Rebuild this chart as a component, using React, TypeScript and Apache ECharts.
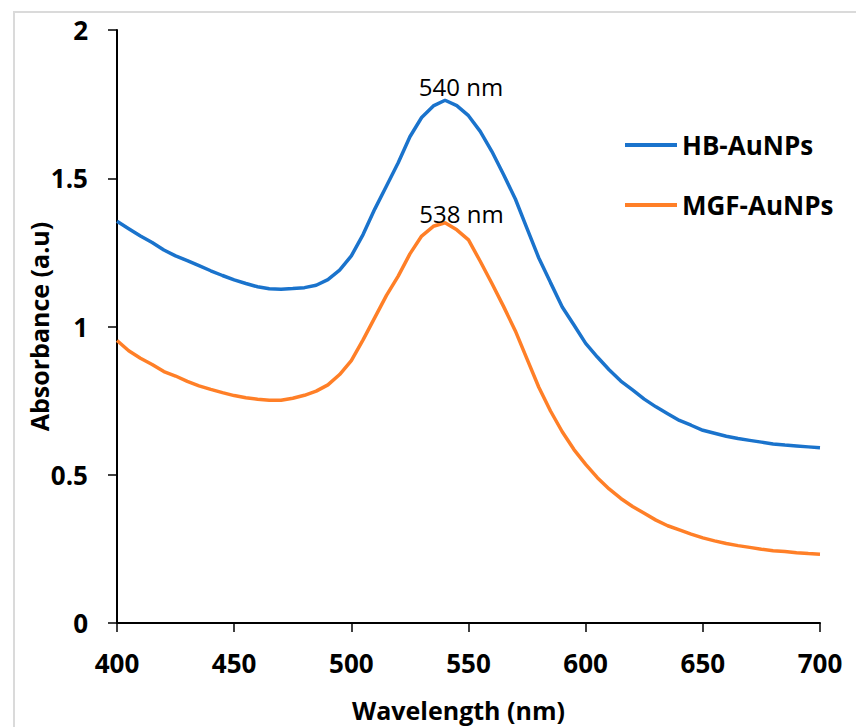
import React, { useEffect, useRef } from "react";
import * as echarts from "echarts";

const wavelengths: number[] = [
  400, 405, 410, 415, 420, 425, 430, 435, 440, 445, 450, 455, 460, 465, 470, 475, 480, 485, 490, 495,
  500, 505, 510, 515, 520, 525, 530, 535, 540, 545, 550, 555, 560, 565, 570, 575, 580, 585, 590, 595,
  600, 605, 610, 615, 620, 625, 630, 635, 640, 645, 650, 655, 660, 665, 670, 675, 680, 685, 690, 695, 700,
];

const hbAuNPs: number[] = [
  1.355, 1.33, 1.305, 1.283, 1.258, 1.238, 1.222, 1.205, 1.188, 1.172, 1.157, 1.145, 1.134, 1.127, 1.126, 1.128, 1.131, 1.139, 1.158, 1.19,
  1.238, 1.31, 1.396, 1.474, 1.552, 1.64, 1.705, 1.744, 1.763, 1.745, 1.711, 1.658, 1.59, 1.512, 1.43, 1.33, 1.231, 1.148, 1.066, 1.005,
  0.943, 0.897, 0.854, 0.816, 0.786, 0.755, 0.729, 0.706, 0.683, 0.667, 0.65, 0.64, 0.63, 0.622, 0.616, 0.61, 0.604, 0.6, 0.597, 0.594, 0.591,
];

const mgfAuNPs: number[] = [
  0.953, 0.918, 0.893, 0.872, 0.848, 0.833, 0.815, 0.8, 0.788, 0.777, 0.767, 0.76, 0.755, 0.751, 0.751, 0.758, 0.768, 0.782, 0.803, 0.838,
  0.885, 0.955, 1.03, 1.105, 1.17, 1.245, 1.305, 1.338, 1.35, 1.326, 1.292, 1.22, 1.145, 1.067, 0.985, 0.89, 0.795, 0.715, 0.645, 0.585,
  0.535, 0.49, 0.452, 0.42, 0.393, 0.37, 0.347, 0.328, 0.314, 0.3, 0.287, 0.277, 0.268, 0.261, 0.255, 0.249, 0.244, 0.241, 0.237, 0.234, 0.232,
];

const seriesNames: string[] = ["HB-AuNPs", "MGF-AuNPs"];
const peakLabels: string[] = ["540 nm", "538 nm"];
// label anchor positions in data coordinates [wavelength, absorbance]
const peakLabelCoords: number[][] = [
  [546.8, 1.811],
  [547.0, 1.382],
];

const FONT = "'Open Sans', 'Liberation Sans', sans-serif";

export default function App() {
  const ref = useRef<HTMLDivElement>(null);

  useEffect(() => {
    if (!ref.current) return;
    const chart = echarts.init(ref.current, undefined, { renderer: "svg" });
    const blue = "#1a73cc";
    const orange = "#ff7f27";
    const mk = (arr: number[]) => wavelengths.map((w, i) => [w, arr[i]]);

    const markFor = (idx: number) => ({
      silent: true,
      symbol: "rect",
      symbolSize: 1,
      itemStyle: { color: "rgba(0,0,0,0)" },
      label: {
        show: true,
        position: "inside",
        formatter: peakLabels[idx],
        color: "#000",
        fontFamily: FONT,
        fontSize: 24,
        fontWeight: "normal",
      },
      data: [{ coord: peakLabelCoords[idx] }],
    });

    chart.setOption({
      animation: false,
      backgroundColor: "#fff",
      textStyle: { fontFamily: FONT },
      grid: { left: 117, top: 30, width: 703, height: 602, containLabel: false },
      graphic: [
        {
          type: "rect",
          shape: { x: 14, y: 12, width: 900, height: 800 },
          style: { fill: "none", stroke: "#dadada", lineWidth: 2 },
          silent: true,
          z: -10,
        },
      ],
      legend: {
        orient: "vertical",
        left: 620,
        top: 125,
        itemWidth: 52,
        itemHeight: 4,
        itemGap: 30,
        icon: "rect",
        data: seriesNames,
        textStyle: {
          fontFamily: FONT,
          fontSize: 26,
          fontWeight: "bold",
          color: "#000",
          lineHeight: 30,
        },
      },
      xAxis: {
        type: "value",
        min: 400,
        max: 700,
        interval: 50,
        name: "Wavelength (nm)",
        nameLocation: "middle",
        nameGap: 74,
        nameMoveOverlap: false,
        nameTextStyle: {
          fontFamily: FONT,
          fontSize: 25,
          fontWeight: "bold",
          color: "#000",
          padding: [0, 20, 0, 0],
        },
        axisLine: { show: true, lineStyle: { color: "#000", width: 2 } },
        axisTick: { show: true, inside: false, length: 9, lineStyle: { color: "#000", width: 1.5 } },
        axisLabel: {
          margin: 27,
          fontFamily: FONT,
          fontSize: 26,
          fontWeight: "bold",
          color: "#000",
        },
        splitLine: { show: false },
      },
      yAxis: {
        type: "value",
        min: 0,
        max: 2,
        interval: 0.5,
        name: "Absorbance (a.u)",
        nameLocation: "middle",
        nameRotate: 90,
        nameGap: 66,
        nameMoveOverlap: false,
        nameTextStyle: {
          fontFamily: FONT,
          fontSize: 25,
          fontWeight: "bold",
          color: "#000",
        },
        axisLine: { show: true, lineStyle: { color: "#000", width: 2 } },
        axisTick: { show: true, inside: false, length: 9, lineStyle: { color: "#000", width: 1.5 } },
        axisLabel: {
          margin: 29,
          fontFamily: FONT,
          fontSize: 26,
          fontWeight: "bold",
          color: "#000",
        },
        splitLine: { show: false },
      },
      series: [
        {
          name: seriesNames[0],
          type: "line",
          data: mk(hbAuNPs),
          showSymbol: false,
          smooth: false,
          color: blue,
          lineStyle: { color: blue, width: 3.5 },
          markPoint: markFor(0),
        },
        {
          name: seriesNames[1],
          type: "line",
          data: mk(mgfAuNPs),
          showSymbol: false,
          smooth: false,
          color: orange,
          lineStyle: { color: orange, width: 3.5 },
          markPoint: markFor(1),
        },
      ],
    });

    return () => chart.dispose();
  }, []);

  return (
    <div
      ref={ref}
      style={{ position: "fixed", left: 0, top: 0, width: 856, height: 727, background: "#fff" }}
    />
  );
}
